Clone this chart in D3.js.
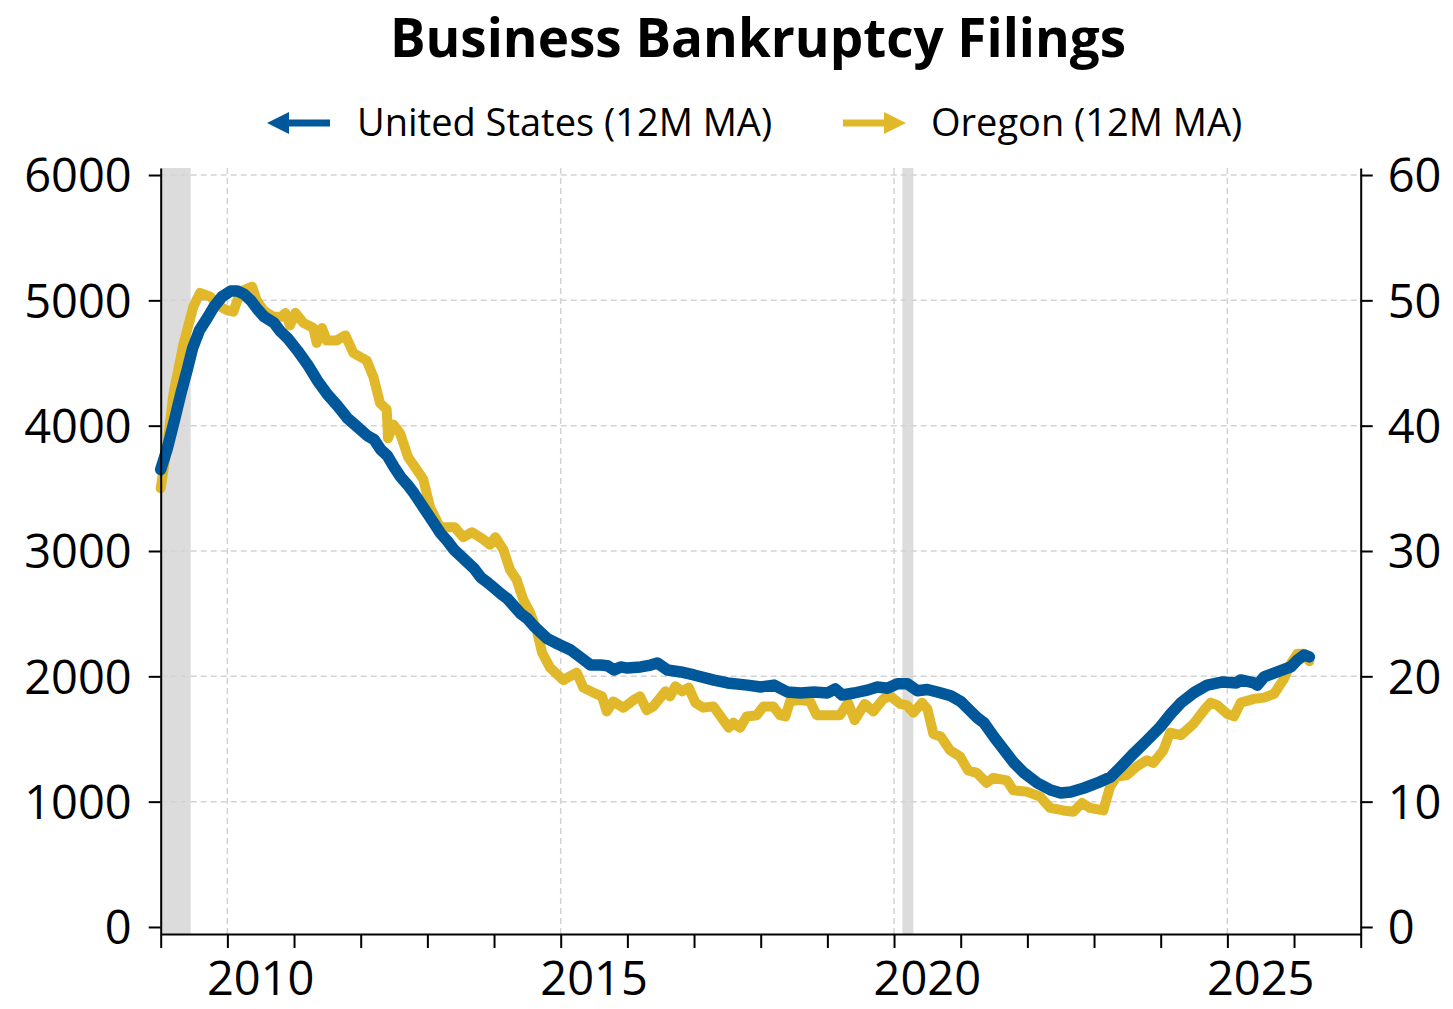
<!DOCTYPE html>
<html>
<head>
<meta charset="utf-8">
<script src="https://cdn.jsdelivr.net/npm/d3@7/dist/d3.min.js"></script>
<style>
  body { margin: 0; background: #fff; }
  text { font-family: "Open Sans", "Noto Sans", sans-serif; fill: #000; }
</style>
</head>
<body>
<div id="chart"></div>
<script>
// data (decimal years)
var usDates = [2009.00, 2009.10, 2009.20, 2009.30, 2009.40, 2009.48, 2009.58, 2009.70, 2009.80, 2009.92,
  2010.05, 2010.15, 2010.25, 2010.35, 2010.45, 2010.55, 2010.70, 2010.80, 2010.90, 2011.05,
  2011.20, 2011.35, 2011.50, 2011.65, 2011.80, 2011.95, 2012.10, 2012.20, 2012.30, 2012.40,
  2012.50, 2012.60, 2012.70, 2012.80, 2012.90, 2013.00, 2013.10, 2013.20, 2013.30, 2013.40,
  2013.50, 2013.60, 2013.70, 2013.80, 2013.90, 2014.00, 2014.10, 2014.20, 2014.30, 2014.40,
  2014.50, 2014.60, 2014.70, 2014.80, 2014.95, 2015.15, 2015.30, 2015.45, 2015.60, 2015.70,
  2015.80, 2015.90, 2016.00, 2016.20, 2016.35, 2016.45, 2016.60, 2016.80, 2017.00, 2017.30,
  2017.50, 2017.80, 2018.00, 2018.20, 2018.40, 2018.60, 2018.80, 2019.00, 2019.12, 2019.22,
  2019.40, 2019.60, 2019.75, 2019.90, 2020.05, 2020.20, 2020.35, 2020.50, 2020.65, 2020.85,
  2021.00, 2021.10, 2021.25, 2021.35, 2021.50, 2021.65, 2021.80, 2021.95, 2022.15, 2022.35,
  2022.50, 2022.65, 2022.85, 2023.05, 2023.25, 2023.40, 2023.60, 2023.80, 2024.00, 2024.15,
  2024.30, 2024.50, 2024.70, 2024.93, 2025.14, 2025.20, 2025.40, 2025.45, 2025.55, 2025.75,
  2025.95, 2026.05, 2026.15, 2026.23];
var usValues = [3650, 3820, 4030, 4250, 4450, 4620, 4760, 4860, 4950, 5030,
  5075, 5075, 5050, 5000, 4930, 4870, 4820, 4750, 4700, 4600,
  4490, 4360, 4250, 4160, 4060, 3990, 3920, 3890, 3810, 3760,
  3670, 3590, 3530, 3460, 3380, 3300, 3220, 3140, 3080, 3010,
  2960, 2910, 2860, 2790, 2750, 2705, 2660, 2620, 2560, 2500,
  2460, 2400, 2350, 2300, 2260, 2210, 2150, 2090, 2090, 2085,
  2050, 2075, 2066, 2075, 2090, 2106, 2050, 2035, 2011, 1970,
  1947, 1930, 1915, 1930, 1875, 1867, 1875, 1867, 1900, 1851,
  1867, 1890, 1915, 1905, 1940, 1940, 1885, 1895, 1875, 1845,
  1800, 1747, 1668, 1628, 1516, 1412, 1309, 1229, 1149, 1093,
  1069, 1077, 1109, 1149, 1197, 1277, 1388, 1492, 1600, 1700,
  1787, 1870, 1930, 1955, 1947, 1971, 1947, 1931, 1995, 2035,
  2075, 2130, 2170, 2155];

var orDates = [2009.00, 2009.10, 2009.19, 2009.34, 2009.49, 2009.59, 2009.74, 2009.89, 2010.00, 2010.09,
  2010.15, 2010.24, 2010.37, 2010.44, 2010.54, 2010.69, 2010.82, 2010.87, 2010.94, 2011.02,
  2011.14, 2011.29, 2011.34, 2011.42, 2011.49, 2011.64, 2011.77, 2011.89, 2012.09, 2012.19,
  2012.29, 2012.39, 2012.41, 2012.49, 2012.59, 2012.71, 2012.84, 2012.94, 2013.04, 2013.19,
  2013.29, 2013.41, 2013.54, 2013.67, 2013.82, 2013.94, 2014.02, 2014.14, 2014.24, 2014.34,
  2014.44, 2014.54, 2014.64, 2014.72, 2014.84, 2015.04, 2015.17, 2015.24, 2015.34, 2015.49,
  2015.62, 2015.69, 2015.79, 2015.94, 2016.09, 2016.19, 2016.29, 2016.39, 2016.57, 2016.64,
  2016.72, 2016.82, 2016.92, 2017.02, 2017.14, 2017.29, 2017.40, 2017.52, 2017.59, 2017.69,
  2017.79, 2017.94, 2018.04, 2018.19, 2018.29, 2018.37, 2018.44, 2018.59, 2018.74, 2018.84,
  2019.04, 2019.19, 2019.31, 2019.41, 2019.56, 2019.69, 2019.84, 2019.95, 2020.09, 2020.19,
  2020.29, 2020.42, 2020.50, 2020.59, 2020.70, 2020.84, 2020.99, 2021.11, 2021.24, 2021.39,
  2021.49, 2021.69, 2021.79, 2021.99, 2022.19, 2022.34, 2022.54, 2022.69, 2022.82, 2022.94,
  2023.14, 2023.24, 2023.34, 2023.49, 2023.64, 2023.79, 2023.89, 2024.04, 2024.14, 2024.30,
  2024.49, 2024.65, 2024.75, 2024.85, 2025.00, 2025.10, 2025.20, 2025.40, 2025.55, 2025.70,
  2025.85, 2025.95, 2026.05, 2026.15, 2026.23];
var orValues = [35.0, 38.5, 42.5, 46.5, 49.5, 50.6, 50.3, 49.5, 49.2, 49.1,
  50.0, 50.8, 51.1, 50.0, 49.2, 48.7, 48.7, 49.0, 48.0, 49.0,
  48.2, 47.8, 46.6, 47.8, 46.8, 46.8, 47.2, 45.8, 45.2, 43.9,
  41.8, 41.3, 39.0, 40.1, 39.4, 37.5, 36.5, 35.7, 33.5, 31.9,
  31.9, 31.9, 31.1, 31.5, 31.0, 30.5, 31.1, 30.1, 28.5, 27.7,
  26.1, 25.1, 23.7, 21.9, 20.7, 19.7, 20.1, 20.3, 19.1, 18.7,
  18.4, 17.2, 18.0, 17.5, 18.1, 18.4, 17.3, 17.6, 18.8, 18.4,
  19.2, 18.8, 19.1, 17.9, 17.5, 17.6, 16.8, 15.9, 16.3, 15.9,
  16.8, 16.9, 17.6, 17.6, 16.9, 16.8, 18.0, 18.1, 18.0, 16.9,
  16.9, 16.9, 17.9, 16.5, 17.8, 17.2, 18.2, 18.4, 17.8, 17.7,
  17.1, 17.9, 17.4, 15.4, 15.2, 14.1, 13.6, 12.5, 12.3, 11.5,
  11.9, 11.7, 10.9, 10.8, 10.4, 9.5, 9.3, 9.2, 9.9, 9.5,
  9.3, 11.2, 12.0, 12.1, 12.8, 13.3, 13.1, 14.1, 15.5, 15.3,
  16.2, 17.3, 17.9, 17.7, 17.0, 16.8, 17.9, 18.2, 18.3, 18.6,
  19.8, 21.0, 21.8, 21.8, 21.2];

var recessions = [[2009.00, 2009.45], [2020.125, 2020.29]];
var leftTicks = [0, 1000, 2000, 3000, 4000, 5000, 6000];
var rightTicks = [0, 10, 20, 30, 40, 50, 60];
var yearTicks = d3.range(2009, 2028);
var labelYears = [2010, 2015, 2020, 2025];
var seriesNames = ["United States (12M MA)", "Oregon (12M MA)"];
var blue = "#00589b", gold = "#e0b829";

var W = 1453, H = 1009;
var margin = {top: 168, right: 92.3, bottom: 75, left: 160.7},
    width = W - margin.left - margin.right,
    height = H - margin.top - margin.bottom;

var x = d3.scaleLinear().domain([2009, 2027]).range([0, width]);
var y = d3.scaleLinear().domain([-56, 6056]).range([height, 0]);
var yR = d3.scaleLinear().domain([-0.56, 60.56]).range([height, 0]);

var svg = d3.select("#chart").append("svg")
    .attr("width", W)
    .attr("height", H);

// title
svg.append("text")
    .attr("x", 758).attr("y", 57)
    .attr("text-anchor", "middle")
    .style("font-size", "53px").style("font-weight", "bold")
    .text("Business Bankruptcy Filings");

// legend
var leg = svg.append("g");
function legendItem(x0, x1, dir, color, label, tx) {
  var g = leg.append("g");
  var ly = 123;
  var tip = dir < 0 ? x0 : x1;
  g.append("line")
      .attr("x1", dir < 0 ? x0 + 16 : x0).attr("x2", dir < 0 ? x1 : x1 - 16)
      .attr("y1", ly).attr("y2", ly)
      .attr("stroke", color).attr("stroke-width", 7);
  g.append("path")
      .attr("d", "M" + tip + "," + ly + "L" + (tip - dir * 22) + "," + (ly - 11) +
                 "L" + (tip - dir * 22) + "," + (ly + 11) + "Z")
      .attr("fill", color);
  g.append("text")
      .attr("x", tx).attr("y", 136)
      .style("font-size", "38px")
      .text(label);
}
legendItem(267, 330, -1, blue, seriesNames[0], 357);
legendItem(843, 906, 1, gold, seriesNames[1], 931);

var g = svg.append("g")
    .attr("transform", "translate(" + margin.left + "," + margin.top + ")");

// recession shading
g.selectAll(".rec")
    .data(recessions)
  .enter().append("rect")
    .attr("x", function(d) { return x(d[0]); })
    .attr("width", function(d) { return x(d[1]) - x(d[0]); })
    .attr("y", 0)
    .attr("height", height)
    .attr("fill", "#dcdcdc");

// gridlines
g.selectAll(".hgrid")
    .data(leftTicks.slice(1))
  .enter().append("line")
    .attr("x1", 0).attr("x2", width)
    .attr("y1", function(d) { return y(d); })
    .attr("y2", function(d) { return y(d); })
    .attr("stroke", "#d3d3d3").attr("stroke-width", 1.5)
    .attr("stroke-dasharray", "6,4");
g.selectAll(".vgrid")
    .data(labelYears)
  .enter().append("line")
    .attr("x1", function(d) { return x(d); })
    .attr("x2", function(d) { return x(d); })
    .attr("y1", 0).attr("y2", height)
    .attr("stroke", "#d3d3d3").attr("stroke-width", 1.5)
    .attr("stroke-dasharray", "6,4");

// lines
var lineUS = d3.line()
    .x(function(d) { return x(d[0]); })
    .y(function(d) { return y(d[1]); });
var lineOR = d3.line()
    .x(function(d) { return x(d[0]); })
    .y(function(d) { return yR(d[1]); });

g.append("path")
    .datum(d3.zip(orDates, orValues))
    .attr("d", lineOR)
    .attr("fill", "none")
    .attr("stroke", gold).attr("stroke-width", 10)
    .attr("stroke-linejoin", "round").attr("stroke-linecap", "round");

g.append("path")
    .datum(d3.zip(usDates, usValues))
    .attr("d", lineUS)
    .attr("fill", "none")
    .attr("stroke", blue).attr("stroke-width", 11.5)
    .attr("stroke-linejoin", "round").attr("stroke-linecap", "round");

// axes
var axL = g.append("g")
    .call(d3.axisLeft(y).tickValues(leftTicks).tickFormat(d3.format("d"))
      .tickSize(12).tickSizeOuter(0).tickPadding(17));
var axR = g.append("g")
    .attr("transform", "translate(" + width + ",0)")
    .call(d3.axisRight(yR).tickValues(rightTicks).tickFormat(d3.format("d"))
      .tickSize(12).tickSizeOuter(0).tickPadding(15));
var axB = g.append("g")
    .attr("transform", "translate(0," + height + ")")
    .call(d3.axisBottom(x).tickValues(yearTicks).tickSize(14).tickSizeOuter(0).tickFormat(""));

[axL, axR].forEach(function(a) {
  a.selectAll("text")
      .attr("dy", "0.36em")
      .style("font-family", '"Open Sans", sans-serif')
      .style("font-size", "47px")
      .attr("fill", "#000");
});
[axL, axR, axB].forEach(function(a) {
  a.selectAll("path, line").attr("stroke", "#000").attr("stroke-width", 2);
});

// year labels sit in the middle of each year
g.selectAll(".ylab")
    .data(labelYears)
  .enter().append("text")
    .attr("x", function(d) { return x(d + 0.5); })
    .attr("y", height + 61)
    .attr("text-anchor", "middle")
    .style("font-size", "47px")
    .text(function(d) { return d; });
</script>
</body>
</html>
